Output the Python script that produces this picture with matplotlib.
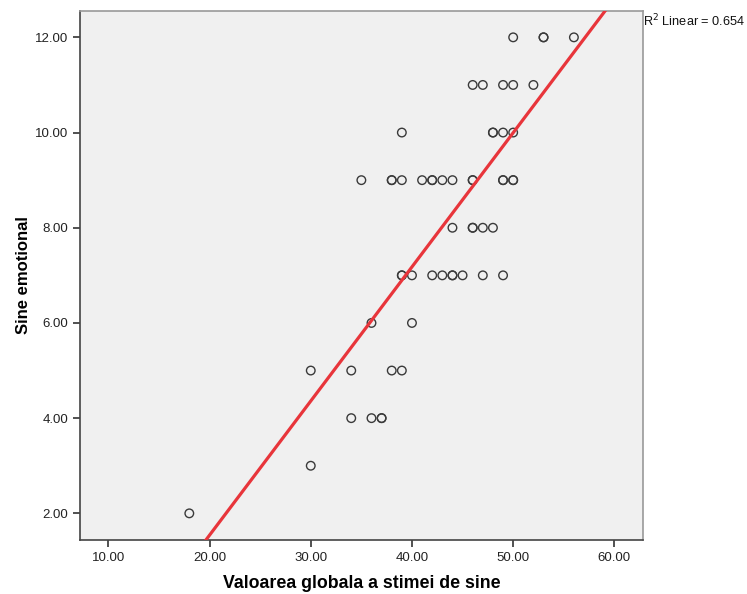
import numpy as np
import matplotlib
matplotlib.use('Agg')
import matplotlib.pyplot as plt
from matplotlib.ticker import FormatStrFormatter

plt.rcParams['font.family'] = ['Liberation Sans', 'DejaVu Sans']

# Data, row by row (y value -> x values)
stima_x = [18,
           30,
           34, 36, 37, 37,
           30, 34, 38, 39,
           36, 40,
           39, 39, 40, 42, 43, 44, 44, 45, 47, 49,
           44, 46, 46, 47, 48,
           35, 38, 38, 39, 41, 42, 42, 43, 44, 46, 46, 49, 49, 50, 50,
           39, 48, 48, 49, 50,
           46, 47, 49, 50, 52,
           50, 53, 53, 56]
emotional_y = [2,
               3,
               4, 4, 4, 4,
               5, 5, 5, 5,
               6, 6,
               7, 7, 7, 7, 7, 7, 7, 7, 7, 7,
               8, 8, 8, 8, 8,
               9, 9, 9, 9, 9, 9, 9, 9, 9, 9, 9, 9, 9, 9, 9,
               10, 10, 10, 10, 10,
               11, 11, 11, 11, 11,
               12, 12, 12, 12]
r2_text = 'R$^2$ Linear = 0.654'

x = np.array(stima_x, dtype=float)
y = np.array(emotional_y, dtype=float)

# linear fit line
slope, intercept = np.polyfit(x, y, 1)

fig = plt.figure(figsize=(7.47, 5.94), dpi=100)
ax = fig.add_axes([0.1071, 0.0909, 0.7533, 0.8911])
ax.set_facecolor('#f0f0f0')

ax.scatter(x, y, s=38, facecolors='none', edgecolors='#3a3a3a', linewidths=1.0, zorder=3)

xlim = (7.2, 62.8)
xs = np.array(xlim)
ax.plot(xs, slope * xs + intercept, color='#e8353b', linewidth=2.3, zorder=4)

ax.set_xlim(*xlim)
ax.set_ylim(1.44, 12.56)
ax.set_xticks([10, 20, 30, 40, 50, 60])
ax.set_yticks([2, 4, 6, 8, 10, 12])
ax.xaxis.set_major_formatter(FormatStrFormatter('%.2f'))
ax.yaxis.set_major_formatter(FormatStrFormatter('%.2f'))
ax.tick_params(direction='out', length=5, width=1.2, color='#333333',
               labelsize=9.5, labelcolor='#222222')

for side in ['left', 'bottom']:
    ax.spines[side].set_color('#444444')
    ax.spines[side].set_linewidth(1.2)
for side in ['top', 'right']:
    ax.spines[side].set_color('#999999')
    ax.spines[side].set_linewidth(1.2)

ax.set_xlabel('Valoarea globala a stimei de sine', fontsize=12.8, fontweight='bold', labelpad=8)
ax.set_ylabel('Sine emotional', fontsize=12, fontweight='bold', labelpad=3)

ax.text(1.0, 0.997, r2_text, transform=ax.transAxes, fontsize=9.2,
        ha='left', va='top', color='#111111')

fig.savefig('out.png', dpi=100, facecolor='white')
